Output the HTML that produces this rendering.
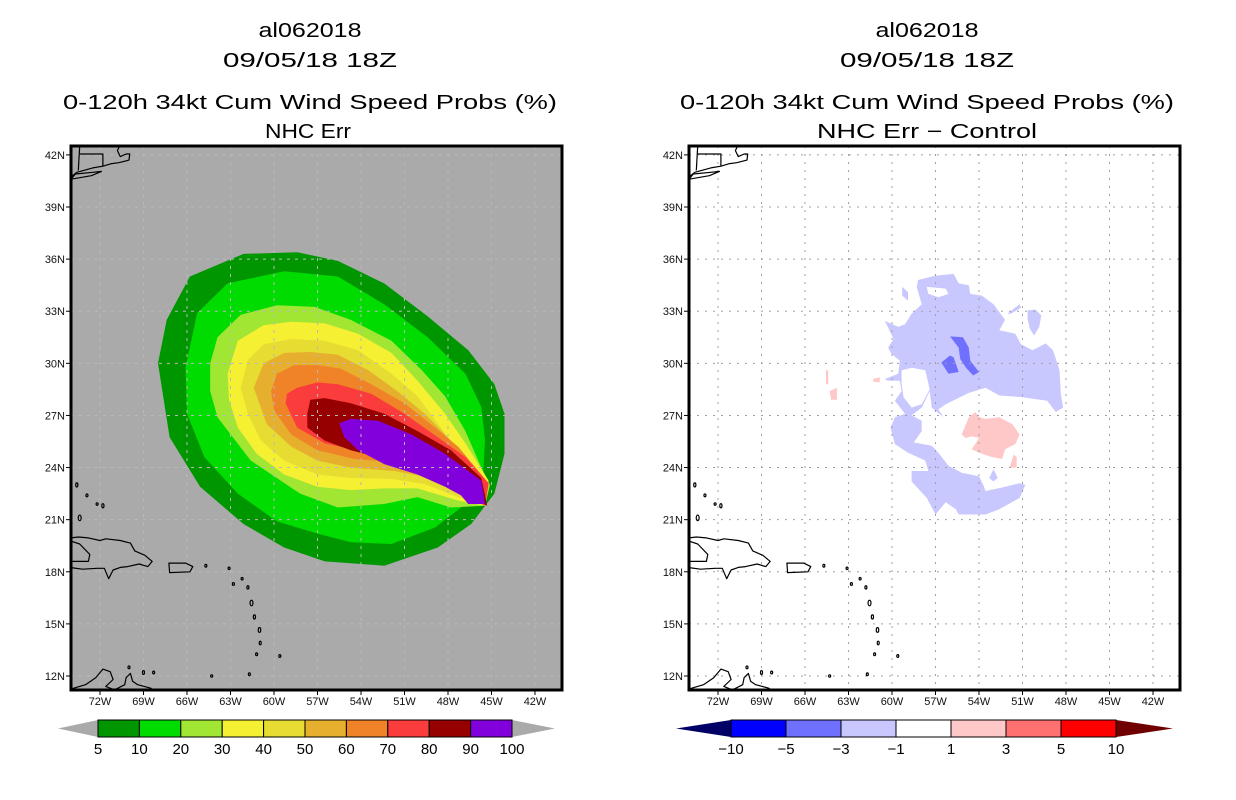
<!DOCTYPE html>
<html><head><meta charset="utf-8"><title>al062018 wind speed probs</title>
<style>
html,body{margin:0;padding:0;background:#fff;}
svg{display:block;}
text{font-family:"Liberation Sans",sans-serif;fill:#000;}
</style></head>
<body>
<svg id="chart" width="1236" height="800" viewBox="0 0 1236 800" xmlns="http://www.w3.org/2000/svg">
<g>
<text x="310" y="37" font-size="20" text-anchor="middle" textLength="103" lengthAdjust="spacingAndGlyphs">al062018</text>
<text x="310" y="67" font-size="20" text-anchor="middle" textLength="174" lengthAdjust="spacingAndGlyphs">09/05/18 18Z</text>
<text x="310" y="109" font-size="20" text-anchor="middle" textLength="494" lengthAdjust="spacingAndGlyphs">0-120h 34kt Cum Wind Speed Probs (%)</text>
<text x="308" y="138" font-size="20" text-anchor="middle" textLength="86" lengthAdjust="spacingAndGlyphs">NHC Err</text>
</g>
<g>
<text x="927" y="37" font-size="20" text-anchor="middle" textLength="103" lengthAdjust="spacingAndGlyphs">al062018</text>
<text x="927" y="67" font-size="20" text-anchor="middle" textLength="174" lengthAdjust="spacingAndGlyphs">09/05/18 18Z</text>
<text x="927" y="109" font-size="20" text-anchor="middle" textLength="494" lengthAdjust="spacingAndGlyphs">0-120h 34kt Cum Wind Speed Probs (%)</text>
<text x="927" y="138" font-size="20" text-anchor="middle" textLength="220" lengthAdjust="spacingAndGlyphs">NHC Err − Control</text>
</g>
<defs>
<clipPath id="clipL"><rect x="71" y="146" width="490" height="544"/></clipPath>
<clipPath id="clipR"><rect x="689" y="146" width="491" height="544"/></clipPath>
</defs>
<g id="leftMap"></g>
<g id="rightMap"></g>
<g id="cbars"></g>
</svg>
<script>
// ---------- data ----------
const lonTicks = [-72,-69,-66,-63,-60,-57,-54,-51,-48,-45,-42];
const latTicks = [12,15,18,21,24,27,30,33,36,39,42];
const probLevels = [5,10,20,30,40,50,60,70,80,90,100];
const probColors = ['#009600','#00dc00','#a0e632','#f5f032','#e6dc32','#e6af2d','#f08228','#fa3c3c','#960000','#8200dc'];
const diffLevels = [-10,-5,-3,-1,1,3,5,10];
const diffColors = ['#0000ff','#7070ff','#c8c8ff','#ffffff','#ffc8c8','#ff7070','#ff0000'];
// probability contours (lon, lat), outer to inner
const prob5 = [[-65.8,35.0],[-62.1,36.3],[-58.4,36.4],[-55.6,35.9],[-52.4,34.6],[-49.4,32.7],[-46.6,30.75],[-44.8,28.8],[-44.1,27.1],[-44.1,24.8],[-44.8,22.5],[-46.4,20.75],[-48.7,19.4],[-52.4,18.35],[-56.5,18.6],[-59.3,19.4],[-62.1,20.75],[-65.1,22.9],[-67.2,25.75],[-68.0,30.0],[-67.4,32.5]];
const prob10 = [[-65.3,32.9],[-63.2,34.6],[-59.3,35.3],[-55.6,35.0],[-52.4,33.4],[-49.4,31.5],[-46.8,29.4],[-45.7,27.5],[-45.45,25.6],[-45.6,23.25],[-47.1,21.7],[-48.9,20.55],[-51.9,19.6],[-54.7,19.7],[-57.0,20.2],[-59.8,20.9],[-62.5,22.5],[-64.8,24.6],[-66.0,27.1],[-66.1,29.8]];
const prob20 = [[-64.4,30.0],[-63.9,31.5],[-62.3,32.8],[-59.8,33.35],[-57.2,33.25],[-54.7,32.5],[-51.9,31.3],[-49.8,29.6],[-48.2,28.1],[-46.8,26.1],[-45.7,24.0],[-45.1,23.0],[-45.45,21.8],[-47.8,21.7],[-50.1,22.3],[-52.4,21.9],[-55.6,21.7],[-58.2,22.5],[-61.6,24.4],[-63.9,26.9],[-64.4,28.4]];
const prob30 = [[-63.2,29.4],[-62.5,31.3],[-60.7,32.2],[-58.8,32.4],[-56.5,32.3],[-54.2,31.7],[-51.9,30.6],[-50.1,29.0],[-48.2,27.1],[-46.8,25.4],[-45.2,23.25],[-45.45,21.8],[-47.3,22.1],[-50.1,22.8],[-52.4,22.8],[-54.7,22.7],[-57.0,22.9],[-59.3,23.6],[-61.2,24.8],[-62.5,26.3],[-63.1,27.9]];
const prob40 = [[-62.3,28.6],[-61.8,30.2],[-60.7,31.1],[-58.8,31.4],[-56.5,31.3],[-54.2,30.75],[-51.9,29.4],[-50.1,28.1],[-48.5,26.3],[-47.1,24.6],[-45.2,23.1],[-45.45,21.8],[-47.3,22.3],[-49.6,23.05],[-51.9,23.35],[-54.7,23.4],[-57.0,23.6],[-59.3,24.4],[-60.9,25.55],[-61.8,27.1]];
const prob50 = [[-61.4,28.6],[-60.7,30.0],[-59.3,30.6],[-57.5,30.65],[-55.6,30.5],[-53.5,29.6],[-51.5,28.4],[-49.6,27.1],[-47.8,25.55],[-45.2,23.1],[-45.45,21.8],[-47.1,22.5],[-49.1,23.4],[-51.7,23.8],[-54.7,24.0],[-57.0,24.4],[-58.8,25.2],[-60.5,26.5]];
const prob60 = [[-60.2,28.4],[-59.8,29.4],[-58.6,29.9],[-57.0,29.9],[-55.4,29.7],[-53.3,28.8],[-51.0,27.7],[-48.9,26.3],[-47.3,25.2],[-45.2,23.1],[-45.45,21.8],[-47.1,22.6],[-49.1,23.8],[-51.7,24.3],[-54.5,24.5],[-57.0,25.0],[-58.8,25.9],[-60.0,27.3]];
const prob70 = [[-59.2,27.7],[-59.1,28.25],[-58.4,28.6],[-57.0,28.9],[-55.6,28.8],[-53.3,28.25],[-51.0,27.1],[-48.7,25.75],[-46.8,24.6],[-45.2,23.1],[-45.45,21.8],[-46.8,22.5],[-48.7,23.8],[-51.2,24.5],[-53.8,24.9],[-56.5,25.4],[-58.4,26.3]];
const prob80 = [[-57.7,27.1],[-57.5,27.9],[-56.5,28.0],[-54.7,27.7],[-52.4,27.1],[-50.1,26.1],[-47.8,25.0],[-45.7,23.4],[-45.3,21.8],[-46.8,22.5],[-48.2,23.25],[-50.1,24.0],[-52.4,24.5],[-54.7,25.0],[-56.5,25.55],[-57.7,26.3]];
const prob90 = [[-55.5,26.55],[-54.7,26.8],[-52.85,26.7],[-50.5,25.9],[-48.2,24.8],[-45.7,23.25],[-45.45,21.9],[-46.6,21.9],[-47.1,22.4],[-48.2,22.9],[-50.1,23.6],[-52.4,24.2],[-54.2,25.0],[-55.15,25.75]];
const probContours = [prob5,prob10,prob20,prob30,prob40,prob50,prob60,prob70,prob80,prob90];
// difference field regions (lon, lat)
const diffMinus1 = [[-58.2,34.8],[-57.0,35.05],[-55.75,35.15],[-55.4,34.6],[-54.7,34.5],[-54.6,34.0],[-53.8,33.9],[-53.0,33.4],[-52.2,32.5],[-52.6,31.9],[-51.5,31.7],[-51.1,31.1],[-50.3,30.75],[-49.4,31.15],[-48.9,30.75],[-48.45,29.6],[-48.35,28.2],[-48.2,27.45],[-48.7,27.2],[-49.3,27.85],[-51.0,28.05],[-52.6,28.15],[-53.55,28.6],[-54.7,28.3],[-56.3,27.65],[-56.8,27.35],[-56.45,26.9],[-57.26,27.45],[-57.4,28.4],[-57.95,27.45],[-58.65,27.0],[-57.95,26.7],[-57.95,26.1],[-58.5,25.45],[-57.26,25.25],[-56.8,24.85],[-56.1,24.1],[-55.2,23.7],[-54.0,23.5],[-53.7,23.0],[-53.55,22.65],[-52.4,22.85],[-51.2,23.1],[-50.8,23.0],[-51.2,22.25],[-52.6,21.6],[-53.55,21.3],[-55.4,21.3],[-55.6,21.6],[-56.3,22.0],[-57.0,21.3],[-57.6,22.25],[-58.65,23.2],[-58.65,23.8],[-57.5,23.8],[-57.7,24.4],[-58.9,24.85],[-59.8,25.35],[-60.1,26.3],[-59.8,26.9],[-59.1,27.1],[-59.8,27.85],[-59.34,28.4],[-59.46,29.0],[-60.27,29.0],[-60.5,29.1],[-59.57,29.4],[-59.46,30.15],[-60.04,30.55],[-60.27,30.9],[-59.9,31.4],[-60.5,32.45],[-59.57,32.1],[-59.1,32.25],[-58.65,32.85],[-57.95,33.4],[-58.3,34.4]];
const diffMinus1b = [[-50.65,33.05],[-50.1,33.1],[-49.7,32.75],[-49.85,32.1],[-50.2,31.6],[-50.5,32.0],[-50.65,32.55]];
const diffMinus1c = [[-52.05,32.85],[-51.2,33.4],[-51.1,33.2],[-51.8,32.85]];
const diffMinus1d = [[-53.3,23.4],[-53.0,23.9],[-52.7,23.4],[-53.0,23.2]];
const diffMinus1e = [[-59.3,34.4],[-58.9,34.1],[-58.9,33.6],[-59.3,33.9]];
const diffZeroPocket = [[-59.34,29.6],[-58.65,29.75],[-57.7,29.6],[-57.4,28.5],[-57.95,27.65],[-58.65,27.45],[-59.2,28.05],[-59.34,28.8]];
const diffZeroHole = [[-57.6,34.4],[-56.3,34.3],[-56.1,34.0],[-56.8,33.8],[-57.5,34.0]];
const diffMinus3a = [[-56.0,31.55],[-55.1,31.5],[-54.7,30.9],[-54.6,30.15],[-54.0,29.5],[-54.4,29.3],[-54.9,29.75],[-55.3,30.25],[-55.4,30.9]];
const diffMinus3b = [[-56.6,30.05],[-56.0,30.45],[-55.75,30.35],[-55.4,29.5],[-56.1,29.4]];
const diffPlus1a = [[-55.2,25.9],[-54.7,26.9],[-54.25,27.2],[-54.0,26.9],[-53.55,26.8],[-52.6,26.9],[-51.7,26.5],[-51.2,25.9],[-51.5,25.35],[-52.2,25.05],[-52.4,24.5],[-53.1,24.6],[-54.0,24.85],[-54.5,25.05],[-54.0,25.7],[-54.5,25.8],[-54.9,25.7]];
const diffPlus1b = [[-51.9,24.0],[-51.6,24.75],[-51.4,24.6],[-51.4,24.0]];
const diffPlus1c = [[-64.55,29.6],[-64.4,29.6],[-64.4,28.8],[-64.55,28.8]];
const diffPlus1d = [[-64.3,28.4],[-63.8,28.6],[-63.8,27.9],[-64.2,27.9]];
const diffPlus1e = [[-61.3,29.1],[-60.85,29.2],[-60.85,28.9],[-61.3,28.95]];
const diffRegions = [[diffMinus1,'#c8c8ff'],[diffMinus1b,'#c8c8ff'],[diffMinus1c,'#c8c8ff'],[diffMinus1d,'#c8c8ff'],[diffMinus1e,'#c8c8ff'],[diffZeroPocket,'#ffffff'],[diffZeroHole,'#ffffff'],[diffMinus3a,'#7070ff'],[diffMinus3b,'#7070ff'],[diffPlus1a,'#ffc8c8'],[diffPlus1b,'#ffc8c8'],[diffPlus1c,'#ffc8c8'],[diffPlus1d,'#ffc8c8'],[diffPlus1e,'#ffc8c8']];
// coastlines (lon, lat)
const coastHispaniola = [[-74.5,19.9],[-73.5,20.0],[-72.8,19.95],[-72.0,19.8],[-71.6,19.9],[-70.6,19.8],[-69.9,19.65],[-69.6,19.2],[-68.9,18.95],[-68.4,18.6],[-68.7,18.3],[-69.3,18.45],[-70.1,18.3],[-70.6,18.25],[-71.1,18.1],[-71.4,17.6],[-71.7,18.2],[-72.2,18.2],[-73.2,18.15],[-74.5,18.3],[-74.0,18.6],[-72.8,18.6],[-72.7,19.0],[-73.4,19.6]];
const coastPuertoRico = [[-67.25,18.5],[-66.1,18.5],[-65.6,18.3],[-65.8,18.0],[-67.2,17.95]];
const coastSouthAmerica = [[-74.2,11.2],[-73.0,11.5],[-72.3,11.9],[-71.8,12.4],[-71.3,12.25],[-71.1,11.8],[-71.6,11.4],[-71.0,11.2],[-70.3,11.5],[-70.2,11.9],[-69.9,12.15],[-69.75,11.7],[-69.4,11.5],[-68.5,11.3],[-68.0,10.9]];
const coastNewEngland = [[-74.2,40.6],[-73.6,41.0],[-72.5,41.25],[-71.8,41.35],[-71.2,41.5],[-70.7,41.55],[-70.0,41.7],[-69.95,42.05],[-70.2,42.05],[-70.6,41.9],[-70.8,42.25],[-70.6,42.6]];
const coastLongIsland = [[-74.0,40.6],[-72.6,40.8],[-71.9,41.05],[-72.5,41.0],[-73.7,40.9]];
const borderLine = [[-73.5,41.1],[-73.4,42.5]];
const borderLine2 = [[-73.4,42.05],[-71.8,42.05],[-71.8,41.35]];
const islands = [[-73.6,23.0,0.15],[-72.9,22.4,0.1],[-71.8,21.8,0.15],[-73.4,21.1,0.2],[-72.2,21.9,0.08],[-64.7,18.35,0.1],[-63.1,18.2,0.08],[-62.8,17.3,0.1],[-61.8,17.1,0.12],[-61.55,16.2,0.2],[-61.35,15.4,0.15],[-61.0,14.65,0.17],[-60.95,13.9,0.13],[-61.2,13.25,0.1],[-61.7,12.1,0.1],[-59.6,13.15,0.1],[-70.0,12.5,0.1],[-69.0,12.2,0.14],[-68.3,12.2,0.1],[-64.4,11.0,0.08],[-63.9,11.0,0.08],[-62.2,17.6,0.05],[-64.3,12.0,0.04]];
const coastLines = [coastHispaniola,coastPuertoRico,coastNewEngland,coastLongIsland,borderLine,borderLine2,coastSouthAmerica];
const closedCoast = [true,true,false,true,false,false,false];

// ---------- axes ----------
const NS='http://www.w3.org/2000/svg';
function mk(tag,attrs,parent){const e=document.createElementNS(NS,tag);for(const k in attrs)e.setAttribute(k,attrs[k]);parent.appendChild(e);return e;}
function makeProj(x0){return {x:lon=>x0+(lon+72)*14.5,y:lat=>676-(lat-12)*17.37};}
function pts(p,arr){return arr.map(d=>p.x(d[0]).toFixed(1)+','+p.y(d[1]).toFixed(1)).join(' ');}

function drawPanel(gid,x0,fx,clipId,bg,gridStyle,fillFn){
  const g=document.getElementById(gid);
  const p=makeProj(x0);
  const fw=491,fy=146,fh=544;
  const bgR=mk('rect',{x:fx,y:fy,width:fw,height:fh,fill:bg},g);
  
  
  const inner=mk('g',{'clip-path':'url(#'+clipId+')'},g);
  
  
  fillFn(inner,p);
  const grid=mk('g',{stroke:gridStyle.color,'stroke-width':1,'stroke-dasharray':gridStyle.dash,fill:'none'},inner);
  
  
  lonTicks.forEach(lon=>{const l=mk('line',{x1:p.x(lon),x2:p.x(lon),y1:fy,y2:fy+fh},grid);
    
    });
  latTicks.forEach(lat=>{const l=mk('line',{x1:fx,x2:fx+fw,y1:p.y(lat),y2:p.y(lat)},grid);
    
    });
  const cg=mk('g',{stroke:'#000','stroke-width':1.2,fill:'none','stroke-linejoin':'round'},inner);
  
  
  coastLines.forEach((c,i)=>{const e=mk(closedCoast[i]?'polygon':'polyline',{points:pts(p,c)},cg);
    
    });
  islands.forEach(d=>{const e=mk('ellipse',{cx:p.x(d[0]),cy:p.y(d[1]),rx:Math.max(1,d[2]*14.5*0.5),ry:Math.max(1.2,d[2]*17.37*0.8)},cg);
    
    });
  const fr=mk('rect',{x:fx,y:fy,width:fw,height:fh,fill:'none',stroke:'#000','stroke-width':3},g);
  
  
  const ax=mk('g',{},g);
  
  
  latTicks.forEach(lat=>{const y=p.y(lat);
    mk('line',{x1:fx-5,x2:fx,y1:y,y2:y,stroke:'#000','stroke-width':1},ax);
    const t=mk('text',{x:fx-6,y:y+4,'font-size':11,'text-anchor':'end',style:'fill:#111'},ax);
    
    
    t.textContent=lat+'N';});
  lonTicks.forEach(lon=>{const x=p.x(lon);
    mk('line',{x1:x,x2:x,y1:fy+fh,y2:fy+fh+5,stroke:'#000','stroke-width':1},ax);
    const t=mk('text',{x:x,y:fy+fh+15,'font-size':11,'text-anchor':'middle',style:'fill:#111'},ax);
    
    
    t.textContent=(-lon)+'W';});
}

drawPanel('leftMap',100,71,'clipL','#aaaaaa',{color:'#b9b9b9',dash:'3,5'},(g,p)=>{
  probContours.forEach((c,i)=>{const e=mk('polygon',{points:pts(p,c),fill:probColors[i]},g);
    
    });
});
drawPanel('rightMap',718,689,'clipR','#ffffff',{color:'#a0a0a0',dash:'2,6'},(g,p)=>{
  diffRegions.forEach(r=>{const e=mk('polygon',{points:pts(p,r[0]),fill:r[1]},g);
    
    });
});

// ---------- colorbars ----------
function colorbar(x0,x1,tipL,tipR,levels,colors,lowCol,highCol,name){
  const g=mk('g',{},document.getElementById('cbars'));
  
  
  const y0=720,y1=737,ym=(y0+y1)/2,n=colors.length,w=(x1-x0)/n;
  const a=mk('polygon',{points:`${tipL},${ym} ${x0},${y0} ${x0},${y1}`,fill:lowCol},g);
  
  
  const b=mk('polygon',{points:`${tipR},${ym} ${x1},${y0} ${x1},${y1}`,fill:highCol},g);
  
  
  colors.forEach((c,i)=>{const r=mk('rect',{x:x0+i*w,y:y0,width:w,height:y1-y0,fill:c,stroke:'#000','stroke-width':1},g);
    
    });
  levels.forEach((v,i)=>{const t=mk('text',{x:x0+i*w,y:754,'font-size':15,'text-anchor':'middle'},g);
    
    
    t.textContent=String(v).replace('-','−');});
}
colorbar(98,512,58,555,probLevels,probColors,'#aaaaaa','#aaaaaa','prob-colorbar');
colorbar(731,1116,676,1173,diffLevels,diffColors,'#000066','#700000','diff-colorbar');
</script>
</body></html>
